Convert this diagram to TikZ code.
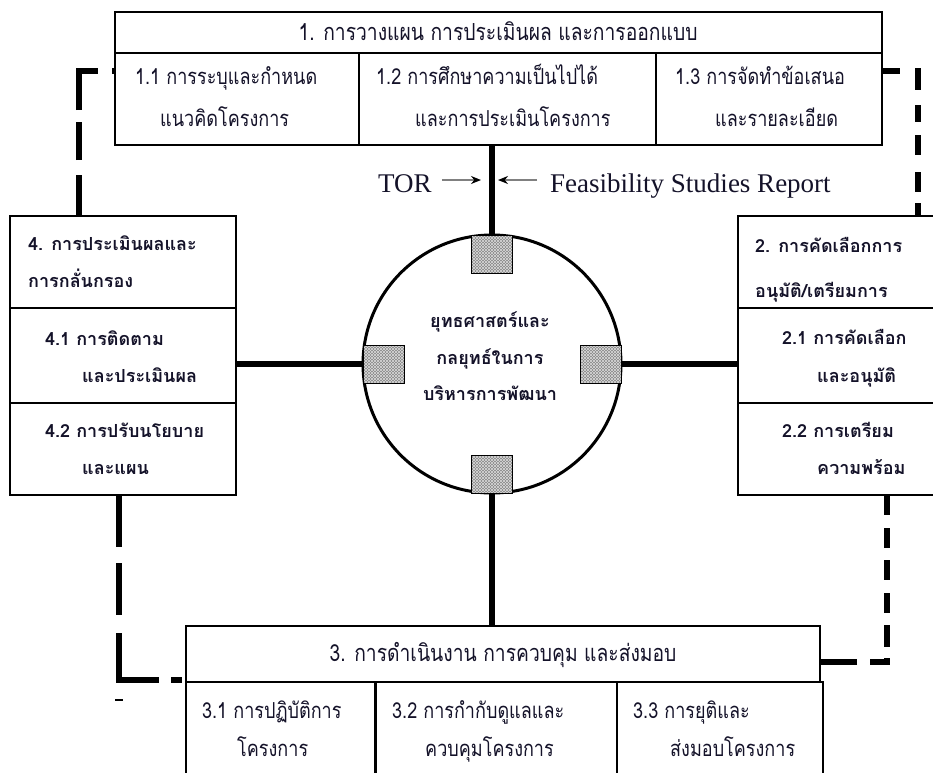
\documentclass[tikz,border=0pt]{standalone}
\usepackage{fontspec}
\setmainfont{Liberation Serif}
\newfontfamily\thaiw[Script=Thai]{Loma}
\newfontfamily\thain[Script=Thai,FakeStretch=0.82]{Loma}
\usetikzlibrary{patterns,arrows.meta}
\definecolor{ink}{rgb}{0.08,0.07,0.16}

\begin{document}
\begin{tikzpicture}[x=1pt,y=-1pt,
  cell/.style={draw, line width=1.5pt, inner sep=0pt, outer sep=0pt, anchor=north west},
  link/.style={line width=5.5pt},
  dlink/.style={line width=6pt},
  lbl/.style={inner sep=0pt, anchor=base west, text=ink},
  lblc/.style={inner sep=0pt, anchor=base, text=ink},
  wide/.style={font=\thaiw\bfseries\fontsize{18}{21}\selectfont},
  hubtext/.style={font=\thaiw\bfseries\fontsize{18}{21}\selectfont},
  narrow/.style={font=\thain\fontsize{22}{26}\selectfont},
  headline/.style={font=\thain\fontsize{23.5}{27}\selectfont},
  latin/.style={font=\fontsize{27}{30}\selectfont},
  hub/.style={draw, line width=3pt, circle, inner sep=0pt, outer sep=0pt, minimum size=258pt},
  port/.style={draw, line width=1pt, inner sep=0pt, outer sep=0pt,
    minimum width=41pt, minimum height=38pt,
    preaction={fill=gray!95},
    preaction={pattern=north west lines, pattern color=white!70!gray},
    pattern=north east lines, pattern color=white!70!gray},
  feed/.style={draw=gray, line width=1.6pt, -{Stealth[black, length=10pt, width=8pt]}},
]
\useasboundingbox (0,0) rectangle (933,772);

% ---- 1: planning block (top)
\node[cell, minimum width=767pt, minimum height=41pt] (h1) at (115,12) {};
\node[cell, minimum width=244pt, minimum height=92pt] (c11) at (115,53) {};
\node[cell, minimum width=297pt, minimum height=92pt] (c12) at (359,53) {};
\node[cell, minimum width=226pt, minimum height=92pt] (c13) at (656,53) {};
\node[lblc, headline] (t1) at (498,40) {1. การวางแผน การประเมินผล และการออกแบบ};
\node[lbl, narrow] (t11a) at (135,84) {1.1 การระบุและกำหนด};
\node[lbl, narrow] (t11b) at (160,126) {แนวคิดโครงการ};
\node[lbl, narrow] (t12a) at (376,84) {1.2 การศึกษาความเป็นไปได้};
\node[lbl, narrow] (t12b) at (415,126) {และการประเมินโครงการ};
\node[lbl, narrow] (t13a) at (675,84) {1.3 การจัดทำข้อเสนอ};
\node[lbl, narrow] (t13b) at (715,126) {และรายละเอียด};

% ---- 4: evaluation block (left)
\node[cell, minimum width=226pt, minimum height=92pt] (h4) at (10,216) {};
\node[cell, minimum width=226pt, minimum height=95pt] (c41) at (10,308) {};
\node[cell, minimum width=226pt, minimum height=92pt] (c42) at (10,403) {};
\node[lbl, wide] (t4a) at (28,250) {4. การประเมินผลและ};
\node[lbl, wide] (t4b) at (28,287) {การกลั่นกรอง};
\node[lbl, wide] (t41a) at (45,345) {4.1 การติดตาม};
\node[lbl, wide] (t41b) at (82,382) {และประเมินผล};
\node[lbl, wide] (t42a) at (45,437) {4.2 การปรับนโยบาย};
\node[lbl, wide] (t42b) at (82,474) {และแผน};

% ---- 2: selection block (right)
\node[cell, minimum width=200pt, minimum height=92pt] (h2) at (738,216) {};
\node[cell, minimum width=200pt, minimum height=95pt] (c21) at (738,308) {};
\node[cell, minimum width=200pt, minimum height=92pt] (c22) at (738,403) {};
\node[lbl, wide] (t2a) at (755,252) {2. การคัดเลือกการ};
\node[lbl, wide] (t2b) at (755,297) {อนุมัติ/เตรียมการ};
\node[lbl, wide] (t21a) at (782,344) {2.1 การคัดเลือก};
\node[lbl, wide] (t21b) at (817,382) {และอนุมัติ};
\node[lbl, wide] (t22a) at (782,437) {2.2 การเตรียม};
\node[lbl, wide] (t22b) at (817,474) {ความพร้อม};

% ---- 3: implementation block (bottom)
\node[cell, minimum width=634pt, minimum height=56pt] (h3) at (186,626) {};
\node[cell, minimum width=189pt, minimum height=100pt] (c31) at (186,682) {};
\node[cell, minimum width=242pt, minimum height=100pt] (c32) at (375,682) {};
\node[cell, minimum width=206pt, minimum height=100pt] (c33) at (617,682) {};
\draw[line width=3pt] (c31.north east) -- (c31.south east);
\node[lblc, headline] (t3) at (503,661) {3. การดำเนินงาน การควบคุม และส่งมอบ};
\node[lbl, narrow] (t31a) at (202,718) {3.1 การปฏิบัติการ};
\node[lbl, narrow] (t31b) at (237,756) {โครงการ};
\node[lbl, narrow] (t32a) at (392,718) {3.2 การกำกับดูแลและ};
\node[lbl, narrow] (t32b) at (425,756) {ควบคุมโครงการ};
\node[lbl, narrow] (t33a) at (633,718) {3.3 การยุติและ};
\node[lbl, narrow] (t33b) at (670,756) {ส่งมอบโครงการ};

% ---- central hub
\node[hub] (hub) at (492,364) {};
\node[port, anchor=north] (pN) at (hub.north) {};
\node[port, anchor=south] (pS) at (hub.south) {};
\node[port, anchor=west] (pW) at (hub.west) {};
\node[port, anchor=east] (pE) at (hub.east) {};
\node[lblc, hubtext] (m1) at (490,327) {ยุทธศาสตร์และ};
\node[lblc, hubtext] (m2) at (490,364) {กลยุทธ์ในการ};
\node[lblc, hubtext] (m3) at (490,400) {บริหารการพัฒนา};

% ---- solid links to the hub
\draw[link] (c12.south -| pN.north) -- (pN.north);
\draw[link] (pS.south) -- (pS.south |- h3.north);
\draw[link] (pW.west -| c41.east) -- (pW.west);
\draw[link] (pE.east) -- (pE.east -| c21.west);

% ---- inputs on the top link
\node[lbl, latin] (tor) at (378,192) {TOR};
\node[lbl, latin] (fsr) at (550,192) {Feasibility Studies Report};
\coordinate (torTip) at (481,180);
\coordinate (fsrTip) at (498,180);
\draw[feed] ([xshift=10pt]tor.east |- torTip) -- (torTip);
\draw[feed] ([xshift=-13pt]fsr.west |- fsrTip) -- (fsrTip);

% ---- dashed cycle between the blocks
\draw[dlink, dash pattern=on 41pt off 15pt on 38pt off 12pt on 58pt off 14pt on 10pt]
  ([xshift=69pt]h4.north west) |- ([yshift=-18pt]c11.north west);
\draw[dlink, dash pattern=on 18pt off 15pt on 22pt off 15pt on 17pt off 13pt on 20pt off 17pt on 20pt off 11pt on 20pt]
  ([yshift=-18pt]c13.north east) -| ([xshift=180pt]h2.north west);
\draw[dlink, dash pattern=on 20pt off 13pt on 20pt off 12pt on 20pt off 13pt on 20pt off 12pt on 22pt off 11pt on 21pt off 13pt on 40pt]
  ([xshift=149pt]c22.south west) |- ([yshift=-36pt]h3.north east);
\draw[dlink, dash pattern=on 52pt off 16pt on 52pt off 18pt on 87pt off 12pt on 11pt off 10pt]
  ([xshift=109pt]c42.south west) |- ([yshift=2pt]h3.south west);
\draw[line width=1.5pt] (115,700) -- (123,700);
\end{tikzpicture}
\end{document}
